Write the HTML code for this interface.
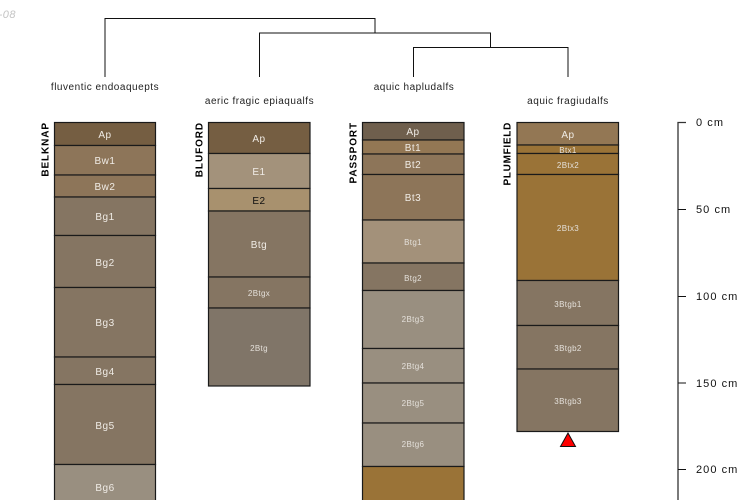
<!DOCTYPE html>
<html><head><meta charset="utf-8"><style>
html,body{margin:0;padding:0;background:#fff;width:750px;height:500px;overflow:hidden}
svg{display:block;font-family:"Liberation Sans",sans-serif}
text{font-size:10px}
.h rect{stroke:#1a1a1a;stroke-width:1.2}
.l text{text-anchor:middle;fill:#f0ece6;letter-spacing:.5px}
.s text{font-size:8px;fill:#e4e0da;letter-spacing:.35px}
.t{text-anchor:middle;fill:#222;font-size:10px;letter-spacing:.52px}
.n{font-weight:bold;fill:#000;text-anchor:end;font-size:10px;letter-spacing:.9px}
.c text{font-size:11px;letter-spacing:1.05px}
</style></head><body>
<svg width="750" height="500" viewBox="0 0 750 500">
<text x="16" y="18" font-style="italic" fill="#c4c4c4" text-anchor="end" style="font-size:11px;letter-spacing:.5px">-08</text>
<g fill="none" stroke="#111" stroke-width="1">
<path d="M105 77V18.500H375V33"/>
<path d="M259.500 77V33H490.500V47"/>
<path d="M413.500 77V47.500H568V77"/>
</g>
<text class="t" x="105" y="90">fluventic endoaquepts</text>
<text class="t" x="259.500" y="104">aeric fragic epiaqualfs</text>
<text class="t" x="414" y="90">aquic hapludalfs</text>
<text class="t" x="568" y="104">aquic fragiudalfs</text>

<text class="n" transform="translate(48.500,122) rotate(-90)">BELKNAP</text>
<text class="n" transform="translate(202.500,122) rotate(-90)">BLUFORD</text>
<text class="n" transform="translate(356.500,122) rotate(-90)">PASSPORT</text>
<text class="n" transform="translate(510.500,122) rotate(-90)" style="letter-spacing:.7px">PLUMFIELD</text>

<g class="h">
<rect x="54.500" y="122.500" width="101" height="23" fill="#755e42"/>
<rect x="54.500" y="145.500" width="101" height="29.500" fill="#8d7559"/>
<rect x="54.500" y="175" width="101" height="22" fill="#8d7559"/>
<rect x="54.500" y="197" width="101" height="38.500" fill="#857562"/>
<rect x="54.500" y="235.500" width="101" height="52" fill="#857562"/>
<rect x="54.500" y="287.500" width="101" height="69.500" fill="#857562"/>
<rect x="54.500" y="357" width="101" height="27.500" fill="#857562"/>
<rect x="54.500" y="384.500" width="101" height="80" fill="#857562"/>
<rect x="54.500" y="464.500" width="101" height="50" fill="#998f80"/>

<rect x="208.500" y="122.500" width="101.500" height="31" fill="#755e42"/>
<rect x="208.500" y="153.500" width="101.500" height="35" fill="#a3927b"/>
<rect x="208.500" y="188.500" width="101.500" height="22.500" fill="#a8916e"/>
<rect x="208.500" y="211" width="101.500" height="66" fill="#857562"/>
<rect x="208.500" y="277" width="101.500" height="31" fill="#857562"/>
<rect x="208.500" y="308" width="101.500" height="78" fill="#807568"/>

<rect x="362.500" y="122.500" width="101.500" height="17.500" fill="#6f5f4d"/>
<rect x="362.500" y="140" width="101.500" height="14" fill="#937754"/>
<rect x="362.500" y="154" width="101.500" height="20.500" fill="#8d7559"/>
<rect x="362.500" y="174.500" width="101.500" height="45.500" fill="#8d7559"/>
<rect x="362.500" y="220" width="101.500" height="43" fill="#a3917a"/>
<rect x="362.500" y="263" width="101.500" height="27.500" fill="#857562"/>
<rect x="362.500" y="290.500" width="101.500" height="58" fill="#998f80"/>
<rect x="362.500" y="348.500" width="101.500" height="34.500" fill="#998f80"/>
<rect x="362.500" y="383" width="101.500" height="40" fill="#998f80"/>
<rect x="362.500" y="423" width="101.500" height="43.500" fill="#998f80"/>
<rect x="362.500" y="466.500" width="101.500" height="50" fill="#9a7337"/>

<rect x="517" y="122.500" width="101.500" height="22.500" fill="#937754"/>
<rect x="517" y="145" width="101.500" height="8.500" fill="#9a7337"/>
<rect x="517" y="153.500" width="101.500" height="21" fill="#9a7337"/>
<rect x="517" y="174.500" width="101.500" height="106" fill="#9a7337"/>
<rect x="517" y="280.500" width="101.500" height="45" fill="#857562"/>
<rect x="517" y="325.500" width="101.500" height="43.500" fill="#857562"/>
<rect x="517" y="369" width="101.500" height="62.500" fill="#857562"/>
</g>

<g class="l">
<text x="105" y="138">Ap</text>
<text x="105" y="164">Bw1</text>
<text x="105" y="190">Bw2</text>
<text x="105" y="220">Bg1</text>
<text x="105" y="266">Bg2</text>
<text x="105" y="326">Bg3</text>
<text x="105" y="375">Bg4</text>
<text x="105" y="429">Bg5</text>
<text x="105" y="491">Bg6</text>
<text x="259" y="142">Ap</text>
<text x="259" y="175">E1</text>
<text x="259" y="204" style="fill:#111">E2</text>
<text x="259" y="248">Btg</text>
<text x="413" y="135">Ap</text>
<text x="413" y="151">Bt1</text>
<text x="413" y="168">Bt2</text>
<text x="413" y="201">Bt3</text>
<text x="568" y="138">Ap</text>
</g>
<g class="l s">
<text x="259" y="296">2Btgx</text>
<text x="259" y="351">2Btg</text>
<text x="413" y="245">Btg1</text>
<text x="413" y="281">Btg2</text>
<text x="413" y="322">2Btg3</text>
<text x="413" y="369">2Btg4</text>
<text x="413" y="406">2Btg5</text>
<text x="413" y="447">2Btg6</text>
<text x="568" y="153">Btx1</text>
<text x="568" y="168">2Btx2</text>
<text x="568" y="231">2Btx3</text>
<text x="568" y="307">3Btgb1</text>
<text x="568" y="351">3Btgb2</text>
<text x="568" y="404">3Btgb3</text>
</g>

<polygon points="568,433 560.500,446.500 575.500,446.500" fill="#ff0000" stroke="#111" stroke-width="1"/>

<path d="M678 500V122.500H686" fill="none" stroke="#333" stroke-width="1.300"/>
<path d="M678 209.500H686M678 296.500H686M678 383H686M678 469.500H686" stroke="#111" stroke-width="1"/>
<g fill="#111" class="c">
<text x="696" y="126">0 cm</text>
<text x="696" y="213">50 cm</text>
<text x="696" y="300">100 cm</text>
<text x="696" y="387">150 cm</text>
<text x="696" y="473">200 cm</text>
</g>
</svg>
</body></html>
